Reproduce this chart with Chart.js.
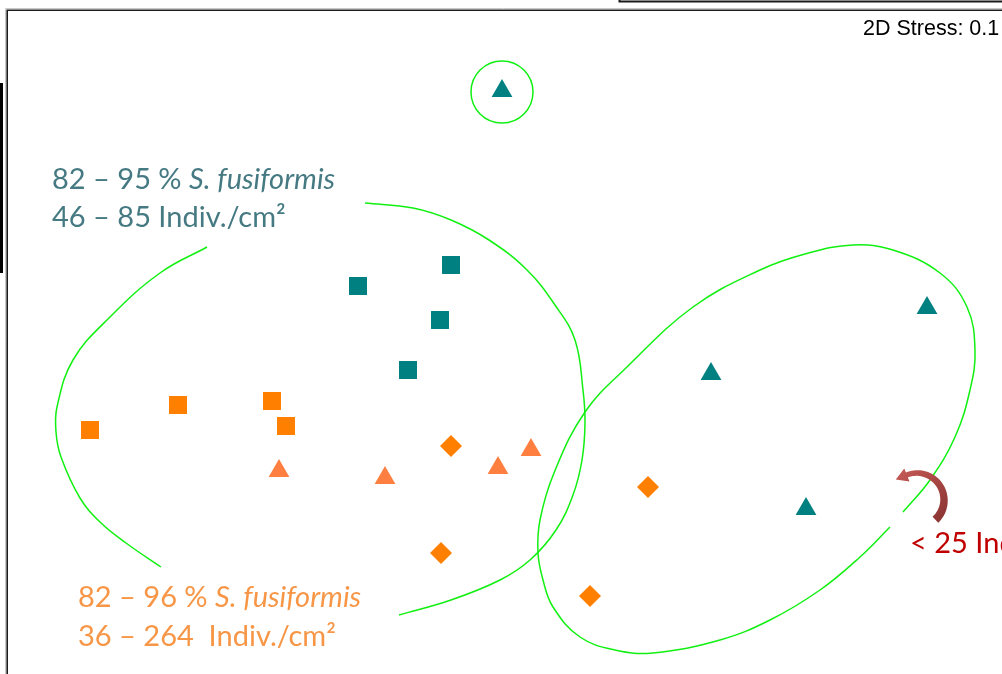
<!DOCTYPE html>
<html><head><meta charset="utf-8">
<script src="https://cdn.jsdelivr.net/npm/chart.js@4/dist/chart.umd.min.js"></script>
<style>html,body{margin:0;padding:0;background:#fff;overflow:hidden}canvas{display:block}</style>
</head><body>
<canvas id="c" width="1002" height="674"></canvas>
<script>
// ---- NMDS ordination scores ----
const tealSquareX = [-1.43, -0.50, -0.61, -0.93];
const tealSquareY = [0.51, 0.72, 0.17, -0.33];
const orangeSquareX = [-4.11, -3.23, -2.29, -2.15];
const orangeSquareY = [-0.93, -0.68, -0.64, -0.89];
const coralTriangleX = [-2.22, -1.16, -0.03, 0.30];
const coralTriangleY = [-1.34, -1.41, -1.31, -1.13];
const orangeDiamondX = [-0.50, 1.47, -0.60, 0.89];
const orangeDiamondY = [-1.09, -1.50, -2.16, -2.59];
const tealTriangleX = [0.01, 2.10, 4.26, 3.05];
const tealTriangleY = [2.46, -0.37, 0.29, -1.72];

// ---- hand-drawn cluster outlines (same units) ----
const leftArcX = [-2.94, -3.41, -3.91, -4.28, -4.44, -4.45, -4.40, -4.21, -4.01, -3.75, -3.40];
const leftArcY = [0.90, 0.64, 0.20, -0.23, -0.70, -0.95, -1.20, -1.61, -1.85, -2.06, -2.30];
const rightArcX = [-1.36, -0.88, -0.50, -0.12, 0.26, 0.54, 0.74, 0.82, 0.84, 0.81, 0.72, 0.55, 0.29, -0.01, -0.50, -1.02];
const rightArcY = [1.34, 1.29, 1.17, 0.97, 0.67, 0.32, -0.03, -0.53, -0.86, -1.23, -1.58, -1.93, -2.23, -2.43, -2.63, -2.78];
const eastOutlineX = [4.02, 4.29, 4.54, 4.69, 4.74, 4.66, 4.39, 3.92, 3.52, 3.04, 2.59, 1.92, 1.26, 0.84, 0.53, 0.39, 0.37, 0.42, 0.52, 0.79, 1.14, 1.52, 2.19, 2.69, 3.19, 3.59, 3.89];
const eastOutlineY = [-1.75, -1.43, -1.00, -0.53, -0.13, 0.30, 0.64, 0.87, 0.92, 0.83, 0.67, 0.30, -0.30, -0.75, -1.36, -1.83, -2.16, -2.43, -2.70, -3.00, -3.13, -3.16, -3.03, -2.83, -2.53, -2.20, -1.90];
const outlierRingX = [0.01];
const outlierRingY = [2.45];
const arrowCentreX = [4.16];
const arrowCentreY = [-1.63];

const stressText = '2D Stress: 0.1';
const tealLabel = [[{t:'82 – 95 % '},{t:'S. fusiformis',i:true}],[{t:'46 – 85 Indiv./cm²'}]];
const orangeLabel = [[{t:'82 – 96 % '},{t:'S. fusiformis',i:true}],[{t:'36 – 264  Indiv./cm²'}]];
const redLabel = '< 25 Indiv./cm²';

const pts = (xs, ys) => xs.map((x, k) => ({x, y: ys[k]}));
const LIME = '#11f011';
const LABEL_FONT = '29px Lato, "Open Sans", sans-serif';

function markerSet(xs, ys, style, r, col) {
  return {data: pts(xs, ys), pointStyle: style, pointRadius: r, pointHoverRadius: r,
    backgroundColor: col, borderColor: col, borderWidth: 0, showLine: false};
}
function outline(xs, ys) {
  return {data: pts(xs, ys), showLine: true, pointRadius: 0, pointHoverRadius: 0,
    borderColor: LIME, borderWidth: 1.5, tension: 0.4, fill: false};
}

const decor = {
  id: 'decor',
  beforeDatasetsDraw(chart) {
    const c = chart.ctx;
    c.save();
    c.strokeStyle = '#c8c8c8'; c.lineWidth = 1;
    c.beginPath(); c.moveTo(5.5, 674); c.lineTo(5.5, 8.5); c.lineTo(1002, 8.5); c.stroke();
    c.strokeStyle = '#1a1a1a'; c.lineWidth = 1.6;
    c.beginPath(); c.moveTo(7.2, 674); c.lineTo(7.2, 10.2); c.lineTo(1002, 10.2); c.stroke();
    c.lineWidth = 2;
    c.beginPath(); c.moveTo(619.5, 0); c.lineTo(619.5, 1.5); c.lineTo(1002, 1.5); c.stroke();
    c.fillStyle = '#000';
    c.fillRect(0, 83, 3, 190);
    c.restore();
  },
  afterDatasetsDraw(chart) {
    const c = chart.ctx, xs = chart.scales.x, ys = chart.scales.y;
    c.save();
    c.font = '21.5px "Liberation Sans", Arial, sans-serif';
    c.fillStyle = '#000'; c.textBaseline = 'alphabetic';
    c.fillText(stressText, 863, 35);
    const runs = (lines, x, y0, dy, col) => {
      c.fillStyle = col;
      lines.forEach((ln, k) => {
        let xx = x;
        ln.forEach(r => {
          c.font = (r.i ? 'italic ' : '') + LABEL_FONT;
          c.fillText(r.t, xx, y0 + k * dy);
          xx += c.measureText(r.t).width;
        });
      });
    };
    runs(tealLabel, 52, 189, 38, '#467a83');
    runs(orangeLabel, 78, 607, 39, '#f79646');
    c.font = LABEL_FONT;
    c.fillStyle = '#c00000';
    c.fillText(redLabel, 910, 553);
    // curved arrow
    const cx = xs.getPixelForValue(arrowCentreX[0]), cy = ys.getPixelForValue(arrowCentreY[0]);
    const R = 27, a0 = 47 * Math.PI / 180, a1 = -112 * Math.PI / 180, N = 40;
    const grad = c.createLinearGradient(cx - 25, cy - 25, cx + 20, cy + 22);
    grad.addColorStop(0, '#c65a56'); grad.addColorStop(1, '#8e3634');
    c.fillStyle = grad;
    c.beginPath();
    for (let k = 0; k <= N; k++) {
      const t = k / N, a = a0 + (a1 - a0) * t, w = 4.2 - 1.6 * t;
      const px = cx + (R + w) * Math.cos(a), py = cy + (R + w) * Math.sin(a);
      k ? c.lineTo(px, py) : c.moveTo(px, py);
    }
    const hw = 7, dxT = Math.sin(a1), dyT = -Math.cos(a1);
    const bx = cx + R * Math.cos(a1), by = cy + R * Math.sin(a1);
    c.lineTo(cx + (R + hw) * Math.cos(a1), cy + (R + hw) * Math.sin(a1));
    c.lineTo(bx + 12 * dxT, by + 12 * dyT);
    c.lineTo(cx + (R - hw) * Math.cos(a1), cy + (R - hw) * Math.sin(a1));
    for (let k = N; k >= 0; k--) {
      const t = k / N, a = a0 + (a1 - a0) * t, w = 4.2 - 1.6 * t;
      c.lineTo(cx + (R - w) * Math.cos(a), cy + (R - w) * Math.sin(a));
    }
    c.closePath(); c.fill();
    c.restore();
  }
};

new Chart(document.getElementById('c'), {
  type: 'scatter',
  data: {datasets: [
    markerSet(tealSquareX, tealSquareY, 'rect', 12.7, '#008080'),
    markerSet(orangeSquareX, orangeSquareY, 'rect', 12.7, '#ff8000'),
    markerSet(coralTriangleX, coralTriangleY, 'triangle', 12, '#ff7f41'),
    markerSet(orangeDiamondX, orangeDiamondY, 'rectRot', 11, '#ff8000'),
    markerSet(tealTriangleX, tealTriangleY, 'triangle', 12, '#008080'),
    {data: pts(outlierRingX, outlierRingY), pointStyle: 'circle', pointRadius: 31, pointHoverRadius: 31,
      backgroundColor: 'rgba(0,0,0,0)', borderColor: LIME, borderWidth: 1.5, showLine: false},
    outline(leftArcX, leftArcY),
    outline(rightArcX, rightArcY),
    outline(eastOutlineX, eastOutlineY)
  ]},
  options: {
    responsive: false, animation: false, events: [],
    layout: {padding: 0, autoPadding: false},
    plugins: {legend: {display: false}, tooltip: {enabled: false}},
    scales: {
      x: {type: 'linear', display: false, min: -5.01, max: 5.01},
      y: {type: 'linear', display: false, min: -3.37, max: 3.37}
    }
  },
  plugins: [decor]
});
</script>
</body></html>
